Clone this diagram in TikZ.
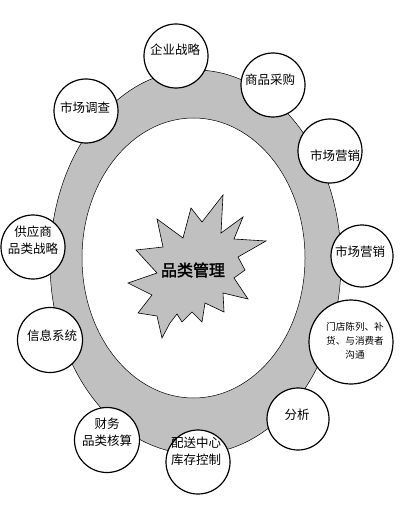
\documentclass[tikz,border=0pt]{standalone}
\usepackage{fontspec}
\newfontfamily\cjk{Noto Sans CJK SC}
\newfontfamily\cjkb[FakeBold=2]{Noto Sans CJK SC}
\definecolor{ringgray}{HTML}{C0C0C0}
\tikzset{
  bub/.style={circle, draw=black, line width=1.2pt, fill=white, inner sep=0pt},
  lbl/.style={inner sep=0pt, align=center, font=\cjk\fontsize{12.5}{17}\selectfont},
  smalllbl/.style={inner sep=0pt, align=center, font=\cjk\fontsize{9.6}{14}\selectfont},
  ring/.style={draw=black, line width=0.5pt},
  burst/.style={draw=black, line width=0.6pt, fill=ringgray}
}
\begin{document}
\begin{tikzpicture}[x=1pt,y=-1pt]
\useasboundingbox[fill=white] (0,0) rectangle (404,505);
% ring
\draw[ring, fill=ringgray] (195.5,262) ellipse [x radius=145.5, y radius=192];
\draw[ring, fill=white] (193.5,258) ellipse [x radius=111.5, y radius=140];
% starburst
\draw[burst] (136,250) -- (163,247) -- (157,219) -- (183,238) -- (191,208) -- (202,222)
  -- (223,195) -- (221,233) -- (243,217) -- (234,239) -- (266,241) -- (238,257)
  -- (245,270) -- (234,278) -- (248,299) -- (223,293) -- (224,312) -- (205,303)
  -- (202,322) -- (192,312) -- (182,322) -- (177,314) -- (170,323) -- (162,338)
  -- (157,316) -- (138,313) -- (152,295) -- (128,283) -- (157,273) -- cycle;
\node[inner sep=0pt, font=\cjkb\fontsize{16}{16}\selectfont] (core) at (193,270) {品类管理};
% bubbles
\node[bub, minimum size=64pt] (b1) at (176,56) {};
\node[lbl] (t1) at (175,50) {企业战略};
\node[bub, minimum size=64pt] (b2) at (273,85) {};
\node[lbl] (t2) at (270,80) {商品采购};
\node[bub, minimum size=64pt] (b3) at (86,111) {};
\node[lbl] (t3) at (85,108) {市场调查};
\node[bub, minimum size=64pt] (b4) at (330,151) {};
\node[lbl] (t4) at (335,156) {市场营销};
\node[bub, minimum size=64pt] (b5) at (33,247) {};
\node[lbl] (t5) at (33,240.5) {供应商\\品类战略};
\node[bub, minimum size=62pt] (b6) at (362,256) {};
\node[lbl] (t6) at (360,252) {市场营销};
\node[bub, minimum size=65pt] (b7) at (50,340) {};
\node[lbl] (t7) at (52,336) {信息系统};
\node[bub, minimum size=84pt] (b8) at (351,342) {};
\node[smalllbl] (t8) at (355,341) {门店陈列、补\\货、与消费者\\沟通};
\node[bub, minimum size=62pt] (b9) at (298,419) {};
\node[lbl] (t9) at (297,415) {分析};
\node[bub, minimum size=65pt] (b10) at (107,440) {};
\node[lbl] (t10) at (107,432.5) {财务\\品类核算};
\node[bub, minimum size=64pt] (b11) at (198,462) {};
\node[lbl] (t11) at (196,451.5) {配送中心\\库存控制};
\end{tikzpicture}
\end{document}
